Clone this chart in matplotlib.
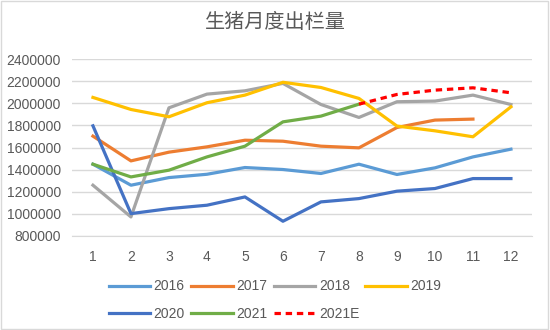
import numpy as np
import matplotlib
matplotlib.use('Agg')
import matplotlib.pyplot as plt

plt.rcParams['font.family'] = ['Liberation Sans', 'DejaVu Sans']

months = [1, 2, 3, 4, 5, 6, 7, 8, 9, 10, 11, 12]
y2016 = [1449000, 1259000, 1328000, 1358000, 1419000, 1401000, 1365000, 1449000, 1356000, 1416000, 1515000, 1585000]
y2017 = [1703000, 1479000, 1558000, 1606000, 1666000, 1657000, 1612000, 1597000, 1781000, 1848000, 1857000]
y2018 = [1259000, 972000, 1959000, 2083000, 2113000, 2180000, 1989000, 1872000, 2014000, 2020000, 2074000, 1989000]
y2019 = [2053000, 1944000, 1878000, 2005000, 2074000, 2190000, 2143000, 2044000, 1794000, 1751000, 1697000, 1968000]
y2020 = [1796000, 1002000, 1047000, 1078000, 1153000, 933000, 1108000, 1138000, 1205000, 1229000, 1319000, 1319000]
y2021 = [1449000, 1334000, 1395000, 1515000, 1612000, 1832000, 1884000, 1992000]
months_e = [8, 9, 10, 11, 12]
y2021e = [1992000, 2080000, 2119000, 2140000, 2095000]
yticks = [800000, 1000000, 1200000, 1400000, 1600000, 1800000, 2000000, 2200000, 2400000]

fig = plt.figure(figsize=(5.5, 3.3), dpi=100)
ax = fig.add_axes([0.131, 0.285, 0.836, 0.536])

lw = 2.3
h16, = ax.plot(months[:len(y2016)], y2016, color='#5B9BD5', lw=lw, label='2016')
h17, = ax.plot(months[:len(y2017)], y2017, color='#ED7D31', lw=lw, label='2017')
h18, = ax.plot(months[:len(y2018)], y2018, color='#A5A5A5', lw=lw, label='2018')
h19, = ax.plot(months[:len(y2019)], y2019, color='#FFC000', lw=lw, label='2019')
h20, = ax.plot(months[:len(y2020)], y2020, color='#4472C4', lw=lw, label='2020')
h21, = ax.plot(months[:len(y2021)], y2021, color='#70AD47', lw=lw, label='2021')
h21e, = ax.plot(months_e, y2021e, color='#FF0000', lw=lw, ls=(0, (2, 1.5)), label='2021E')

ax.set_xlim(0.45, 12.55)
ax.set_ylim(800000, 2400000)
ax.set_yticks(yticks)
ax.set_yticklabels([str(v) for v in yticks])
ax.set_xticks(months)
ax.grid(axis='y', color='#D9D9D9', lw=1)
ax.set_axisbelow(True)
for s in ['top', 'right', 'left']:
    ax.spines[s].set_visible(False)
ax.spines['bottom'].set_color('#D9D9D9')
ax.tick_params(length=0, labelsize=10, colors='#595959')
ax.tick_params(axis='y', pad=8)
ax.tick_params(axis='x', pad=10)

fig.text(0.5, 0.933, '生猪月度出栏量', ha='center', va='center', fontsize=14.5,
         color='#595959', family=['Noto Sans CJK SC', 'DejaVu Sans'])

order = [h16, h20, h17, h21, h18, h21e, h19]
fig.legend(order, [h.get_label() for h in order], ncol=4, loc='center',
           bbox_to_anchor=(0.5, 0.091), frameon=False, fontsize=10,
           handlelength=3.0, columnspacing=0.45, handletextpad=0.25,
           labelspacing=0.95, labelcolor='#595959', borderpad=0)

border = plt.Rectangle((0.002, 0.003), 0.995, 0.993, transform=fig.transFigure,
                       fill=False, edgecolor='#D9D9D9', lw=1)
fig.patches.append(border)

fig.savefig('out.png', dpi=100)
